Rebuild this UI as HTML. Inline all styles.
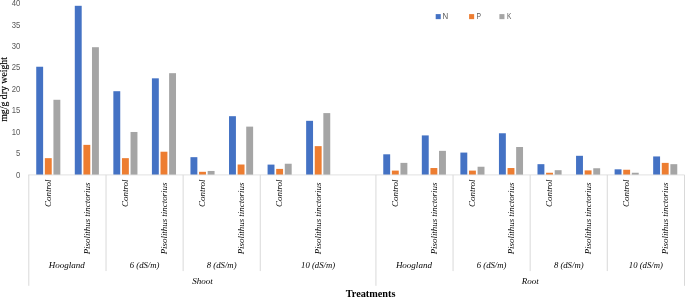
<!DOCTYPE html><html><head><meta charset="utf-8"><title>Chart</title><style>html,body{margin:0;padding:0;background:#fff}svg{display:block}text{font-family:"Liberation Serif",serif}.n{font-family:"Liberation Sans",sans-serif;fill:#595959}</style></head><body>
<svg width="685" height="297" viewBox="0 0 685 297">
<rect width="685" height="297" fill="#fff"/>
<rect x="36.23" y="66.74" width="6.9" height="108.16" fill="#4472c4"/>
<rect x="44.83" y="158.16" width="6.9" height="16.74" fill="#ed7d31"/>
<rect x="53.43" y="99.79" width="6.9" height="75.11" fill="#a5a5a5"/>
<rect x="74.79" y="5.80" width="6.9" height="169.10" fill="#4472c4"/>
<rect x="83.39" y="144.86" width="6.9" height="30.04" fill="#ed7d31"/>
<rect x="91.99" y="47.21" width="6.9" height="127.69" fill="#a5a5a5"/>
<rect x="113.35" y="91.21" width="6.9" height="83.69" fill="#4472c4"/>
<rect x="121.95" y="158.16" width="6.9" height="16.74" fill="#ed7d31"/>
<rect x="130.55" y="131.98" width="6.9" height="42.92" fill="#a5a5a5"/>
<rect x="151.91" y="78.33" width="6.9" height="96.57" fill="#4472c4"/>
<rect x="160.51" y="151.72" width="6.9" height="23.18" fill="#ed7d31"/>
<rect x="169.11" y="73.18" width="6.9" height="101.72" fill="#a5a5a5"/>
<rect x="190.46" y="157.17" width="6.9" height="17.73" fill="#4472c4"/>
<rect x="199.06" y="171.81" width="6.9" height="3.09" fill="#ed7d31"/>
<rect x="207.66" y="170.95" width="6.9" height="3.95" fill="#a5a5a5"/>
<rect x="229.02" y="116.19" width="6.9" height="58.71" fill="#4472c4"/>
<rect x="237.62" y="164.51" width="6.9" height="10.39" fill="#ed7d31"/>
<rect x="246.22" y="126.62" width="6.9" height="48.28" fill="#a5a5a5"/>
<rect x="267.58" y="164.60" width="6.9" height="10.30" fill="#4472c4"/>
<rect x="276.18" y="168.89" width="6.9" height="6.01" fill="#ed7d31"/>
<rect x="284.78" y="163.74" width="6.9" height="11.16" fill="#a5a5a5"/>
<rect x="306.14" y="120.82" width="6.9" height="54.08" fill="#4472c4"/>
<rect x="314.74" y="146.14" width="6.9" height="28.76" fill="#ed7d31"/>
<rect x="323.34" y="113.10" width="6.9" height="61.80" fill="#a5a5a5"/>
<rect x="383.26" y="154.30" width="6.9" height="20.60" fill="#4472c4"/>
<rect x="391.86" y="170.61" width="6.9" height="4.29" fill="#ed7d31"/>
<rect x="400.46" y="162.88" width="6.9" height="12.02" fill="#a5a5a5"/>
<rect x="421.82" y="135.41" width="6.9" height="39.49" fill="#4472c4"/>
<rect x="430.42" y="168.03" width="6.9" height="6.87" fill="#ed7d31"/>
<rect x="439.02" y="150.86" width="6.9" height="24.04" fill="#a5a5a5"/>
<rect x="460.38" y="152.58" width="6.9" height="22.32" fill="#4472c4"/>
<rect x="468.98" y="170.61" width="6.9" height="4.29" fill="#ed7d31"/>
<rect x="477.58" y="166.75" width="6.9" height="8.15" fill="#a5a5a5"/>
<rect x="498.94" y="133.27" width="6.9" height="41.63" fill="#4472c4"/>
<rect x="507.54" y="168.03" width="6.9" height="6.87" fill="#ed7d31"/>
<rect x="516.14" y="147.00" width="6.9" height="27.90" fill="#a5a5a5"/>
<rect x="537.49" y="164.17" width="6.9" height="10.73" fill="#4472c4"/>
<rect x="546.09" y="172.75" width="6.9" height="2.15" fill="#ed7d31"/>
<rect x="554.69" y="170.18" width="6.9" height="4.72" fill="#a5a5a5"/>
<rect x="576.05" y="155.80" width="6.9" height="19.10" fill="#4472c4"/>
<rect x="584.65" y="170.39" width="6.9" height="4.51" fill="#ed7d31"/>
<rect x="593.25" y="168.25" width="6.9" height="6.65" fill="#a5a5a5"/>
<rect x="614.61" y="169.32" width="6.9" height="5.58" fill="#4472c4"/>
<rect x="623.21" y="169.75" width="6.9" height="5.15" fill="#ed7d31"/>
<rect x="631.81" y="172.75" width="6.9" height="2.15" fill="#a5a5a5"/>
<rect x="653.17" y="156.44" width="6.9" height="18.46" fill="#4472c4"/>
<rect x="661.77" y="162.88" width="6.9" height="12.02" fill="#ed7d31"/>
<rect x="670.37" y="164.17" width="6.9" height="10.73" fill="#a5a5a5"/>
<g stroke="#d9d9d9" stroke-width="1" fill="none">
<line x1="28.3" y1="174.9" x2="684.5" y2="174.9" stroke-width="0.8"/>
<line x1="28.80" y1="174.9" x2="28.80" y2="285.8"/>
<line x1="375.93" y1="174.9" x2="375.93" y2="285.8"/>
<line x1="684.50" y1="174.9" x2="684.50" y2="285.8"/>
<line x1="106.02" y1="174.9" x2="106.02" y2="271.1"/>
<line x1="183.14" y1="174.9" x2="183.14" y2="271.1"/>
<line x1="260.25" y1="174.9" x2="260.25" y2="271.1"/>
<line x1="453.05" y1="174.9" x2="453.05" y2="271.1"/>
<line x1="530.16" y1="174.9" x2="530.16" y2="271.1"/>
<line x1="607.28" y1="174.9" x2="607.28" y2="271.1"/>
</g>
<text class="n" x="16.00" y="177.95" font-size="8.8" textLength="4.3" lengthAdjust="spacingAndGlyphs">0</text>
<text class="n" x="16.00" y="155.74" font-size="8.8" textLength="4.3" lengthAdjust="spacingAndGlyphs">5</text>
<text class="n" x="11.70" y="135.18" font-size="8.8" textLength="8.6" lengthAdjust="spacingAndGlyphs">10</text>
<text class="n" x="11.70" y="112.77" font-size="8.8" textLength="8.6" lengthAdjust="spacingAndGlyphs">15</text>
<text class="n" x="11.70" y="92.26" font-size="8.8" textLength="8.6" lengthAdjust="spacingAndGlyphs">20</text>
<text class="n" x="11.70" y="70.45" font-size="8.8" textLength="8.6" lengthAdjust="spacingAndGlyphs">25</text>
<text class="n" x="11.70" y="49.34" font-size="8.8" textLength="8.6" lengthAdjust="spacingAndGlyphs">30</text>
<text class="n" x="11.70" y="27.63" font-size="8.8" textLength="8.6" lengthAdjust="spacingAndGlyphs">35</text>
<text class="n" x="11.70" y="6.42" font-size="8.8" textLength="8.6" lengthAdjust="spacingAndGlyphs">40</text>
<text transform="translate(7.3,89.4) rotate(-90)" font-size="9.8" text-anchor="middle" fill="#000" stroke="#000" stroke-width="0.15">mg/g dry weight</text>
<text transform="translate(51.08,179.4) rotate(-90)" font-size="9" font-style="italic" text-anchor="end" fill="#000">Control</text>
<text transform="translate(89.64,182.6) rotate(-90)" font-size="8.9" font-style="italic" text-anchor="end" fill="#000">Pisolithus tinctorius</text>
<text transform="translate(128.20,179.4) rotate(-90)" font-size="9" font-style="italic" text-anchor="end" fill="#000">Control</text>
<text transform="translate(166.76,182.6) rotate(-90)" font-size="8.9" font-style="italic" text-anchor="end" fill="#000">Pisolithus tinctorius</text>
<text transform="translate(205.31,179.4) rotate(-90)" font-size="9" font-style="italic" text-anchor="end" fill="#000">Control</text>
<text transform="translate(243.87,182.6) rotate(-90)" font-size="8.9" font-style="italic" text-anchor="end" fill="#000">Pisolithus tinctorius</text>
<text transform="translate(282.43,179.4) rotate(-90)" font-size="9" font-style="italic" text-anchor="end" fill="#000">Control</text>
<text transform="translate(320.99,182.6) rotate(-90)" font-size="8.9" font-style="italic" text-anchor="end" fill="#000">Pisolithus tinctorius</text>
<text transform="translate(398.11,179.4) rotate(-90)" font-size="9" font-style="italic" text-anchor="end" fill="#000">Control</text>
<text transform="translate(436.67,182.6) rotate(-90)" font-size="8.9" font-style="italic" text-anchor="end" fill="#000">Pisolithus tinctorius</text>
<text transform="translate(475.23,179.4) rotate(-90)" font-size="9" font-style="italic" text-anchor="end" fill="#000">Control</text>
<text transform="translate(513.79,182.6) rotate(-90)" font-size="8.9" font-style="italic" text-anchor="end" fill="#000">Pisolithus tinctorius</text>
<text transform="translate(552.34,179.4) rotate(-90)" font-size="9" font-style="italic" text-anchor="end" fill="#000">Control</text>
<text transform="translate(590.90,182.6) rotate(-90)" font-size="8.9" font-style="italic" text-anchor="end" fill="#000">Pisolithus tinctorius</text>
<text transform="translate(629.46,179.4) rotate(-90)" font-size="9" font-style="italic" text-anchor="end" fill="#000">Control</text>
<text transform="translate(668.02,182.6) rotate(-90)" font-size="8.9" font-style="italic" text-anchor="end" fill="#000">Pisolithus tinctorius</text>
<text x="66.86" y="267.9" font-size="9" font-style="italic" text-anchor="middle" fill="#000">Hoogland</text>
<text x="129.74" y="267.9" font-size="9" font-style="italic" textLength="29.67" lengthAdjust="spacingAndGlyphs" fill="#000">6 (dS/m)</text>
<text x="206.86" y="267.9" font-size="9" font-style="italic" textLength="29.67" lengthAdjust="spacingAndGlyphs" fill="#000">8 (dS/m)</text>
<text x="301.08" y="267.9" font-size="9" font-style="italic" textLength="34.02" lengthAdjust="spacingAndGlyphs" fill="#000">10 (dS/m)</text>
<text x="413.89" y="267.9" font-size="9" font-style="italic" text-anchor="middle" fill="#000">Hoogland</text>
<text x="476.77" y="267.9" font-size="9" font-style="italic" textLength="29.67" lengthAdjust="spacingAndGlyphs" fill="#000">6 (dS/m)</text>
<text x="553.89" y="267.9" font-size="9" font-style="italic" textLength="29.67" lengthAdjust="spacingAndGlyphs" fill="#000">8 (dS/m)</text>
<text x="628.83" y="267.9" font-size="9" font-style="italic" textLength="34.02" lengthAdjust="spacingAndGlyphs" fill="#000">10 (dS/m)</text>
<text x="202.51" y="284" font-size="9" font-style="italic" text-anchor="middle" fill="#000">Shoot</text>
<text x="530.26" y="284" font-size="9" font-style="italic" text-anchor="middle" fill="#000">Root</text>
<text x="370.6" y="296.6" font-size="10.25" font-weight="bold" text-anchor="middle" fill="#000">Treatments</text>
<rect x="435.7" y="14.1" width="5.05" height="5.05" fill="#4472c4"/>
<text class="n" x="442.50" y="19.15" font-size="8.2" textLength="5.7" lengthAdjust="spacingAndGlyphs">N</text>
<rect x="469.1" y="14.1" width="5.05" height="5.05" fill="#ed7d31"/>
<text class="n" x="476.50" y="19.15" font-size="8.2" textLength="4.5" lengthAdjust="spacingAndGlyphs">P</text>
<rect x="499.4" y="14.1" width="5.05" height="5.05" fill="#a5a5a5"/>
<text class="n" x="507.00" y="19.15" font-size="8.2" textLength="4.3" lengthAdjust="spacingAndGlyphs">K</text>
</svg></body></html>
